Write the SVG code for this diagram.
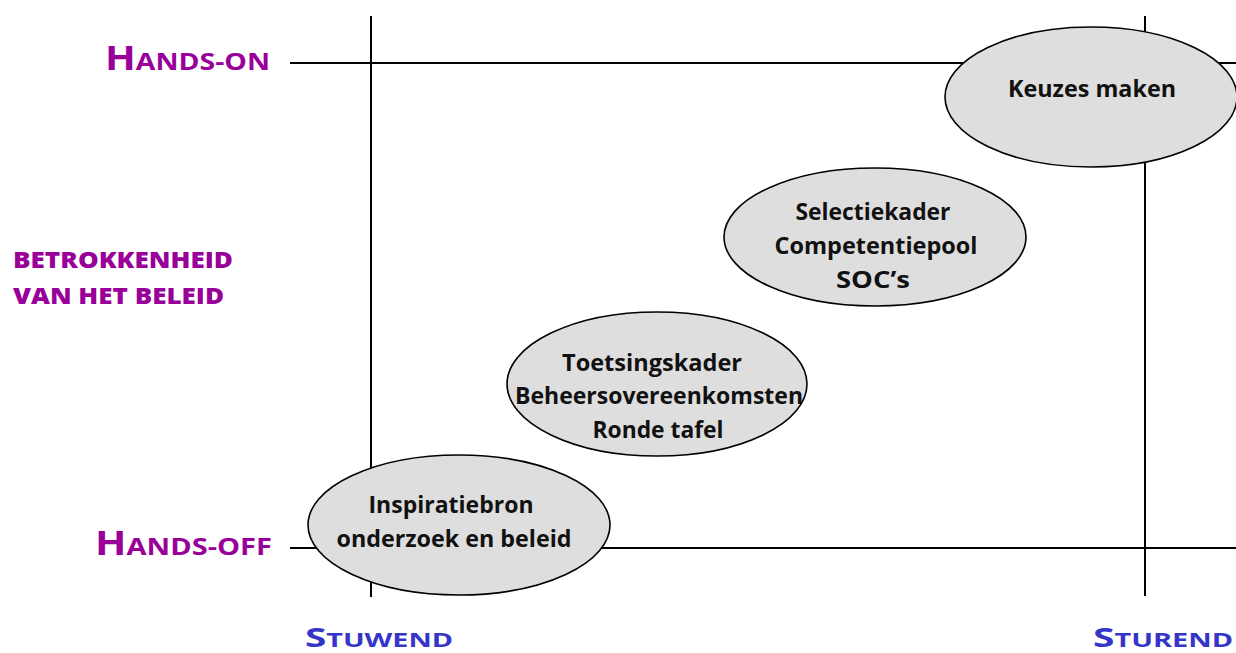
<svg xmlns="http://www.w3.org/2000/svg" width="1236" height="653" viewBox="0 0 1236 653">
<style>
.axis{stroke:#000;stroke-width:2;fill:none}
.node ellipse{fill:#dedede;stroke:#000;stroke-width:1.6}
.nt{font-family:"Open Sans","Liberation Sans",sans-serif;font-weight:bold;font-size:24px;fill:#111;text-anchor:middle}
.lbl{font-family:"Open Sans","Liberation Sans",sans-serif;font-weight:bold}
.ax{font-family:"Open Sans","Liberation Sans",sans-serif;font-weight:800;font-size:23px}
.pur{fill:#990099}
.blu{fill:#3535c8}
</style>
<rect width="1236" height="653" fill="#fff"/>
<g id="connectors">
<line class="axis" x1="290" y1="63" x2="1236" y2="63"/>
<line class="axis" x1="290" y1="548" x2="1236" y2="548"/>
<line class="axis" x1="371" y1="16" x2="371" y2="597"/>
<line class="axis" x1="1145" y1="16" x2="1145" y2="596"/>
</g>
<g id="label-hands-on"><text class="lbl pur" x="105" y="70" textLength="165" lengthAdjust="spacingAndGlyphs"><tspan font-size="34">H</tspan><tspan font-size="24">ANDS-ON</tspan></text></g>
<g id="label-hands-off"><text class="lbl pur" x="95" y="555" textLength="177" lengthAdjust="spacingAndGlyphs"><tspan font-size="34">H</tspan><tspan font-size="24">ANDS-OFF</tspan></text></g>
<g id="label-betrokkenheid">
<text class="ax pur" x="13" y="268" textLength="220" lengthAdjust="spacingAndGlyphs">BETROKKENHEID</text>
<text class="ax pur" x="13" y="304" textLength="211" lengthAdjust="spacingAndGlyphs">VAN HET BELEID</text>
</g>
<g id="label-stuwend"><text class="lbl blu" x="305" y="647" textLength="148" lengthAdjust="spacingAndGlyphs"><tspan font-size="27">S</tspan><tspan font-size="20">TUWEND</tspan></text></g>
<g id="label-sturend"><text class="lbl blu" x="1093" y="647" textLength="140" lengthAdjust="spacingAndGlyphs"><tspan font-size="27">S</tspan><tspan font-size="20">TUREND</tspan></text></g>
<g id="node-keuzes" class="node">
<ellipse cx="1091" cy="97" rx="146" ry="70"/>
<text class="nt" x="1092" y="97" font-size="26" textLength="168" lengthAdjust="spacingAndGlyphs">Keuzes maken</text>
</g>
<g id="node-selectiekader" class="node">
<ellipse cx="875" cy="237" rx="151" ry="69"/>
<text class="nt" x="873" y="220" textLength="155" lengthAdjust="spacingAndGlyphs">Selectiekader</text>
<text class="nt" x="876" y="254" textLength="203" lengthAdjust="spacingAndGlyphs">Competentiepool</text>
<text class="nt" x="873" y="288" textLength="74" lengthAdjust="spacingAndGlyphs">SOC’s</text>
</g>
<g id="node-toetsingskader" class="node">
<ellipse cx="657" cy="384" rx="150" ry="72"/>
<text class="nt" x="652" y="371" textLength="180" lengthAdjust="spacingAndGlyphs">Toetsingskader</text>
<text class="nt" x="659" y="404" textLength="288" lengthAdjust="spacingAndGlyphs">Beheersovereenkomsten</text>
<text class="nt" x="658" y="438" textLength="131" lengthAdjust="spacingAndGlyphs">Ronde tafel</text>
</g>
<g id="node-inspiratiebron" class="node">
<ellipse cx="459" cy="525" rx="151" ry="70"/>
<text class="nt" x="451" y="513" textLength="165" lengthAdjust="spacingAndGlyphs">Inspiratiebron</text>
<text class="nt" x="454" y="547" textLength="235" lengthAdjust="spacingAndGlyphs">onderzoek en beleid</text>
</g>
</svg>
